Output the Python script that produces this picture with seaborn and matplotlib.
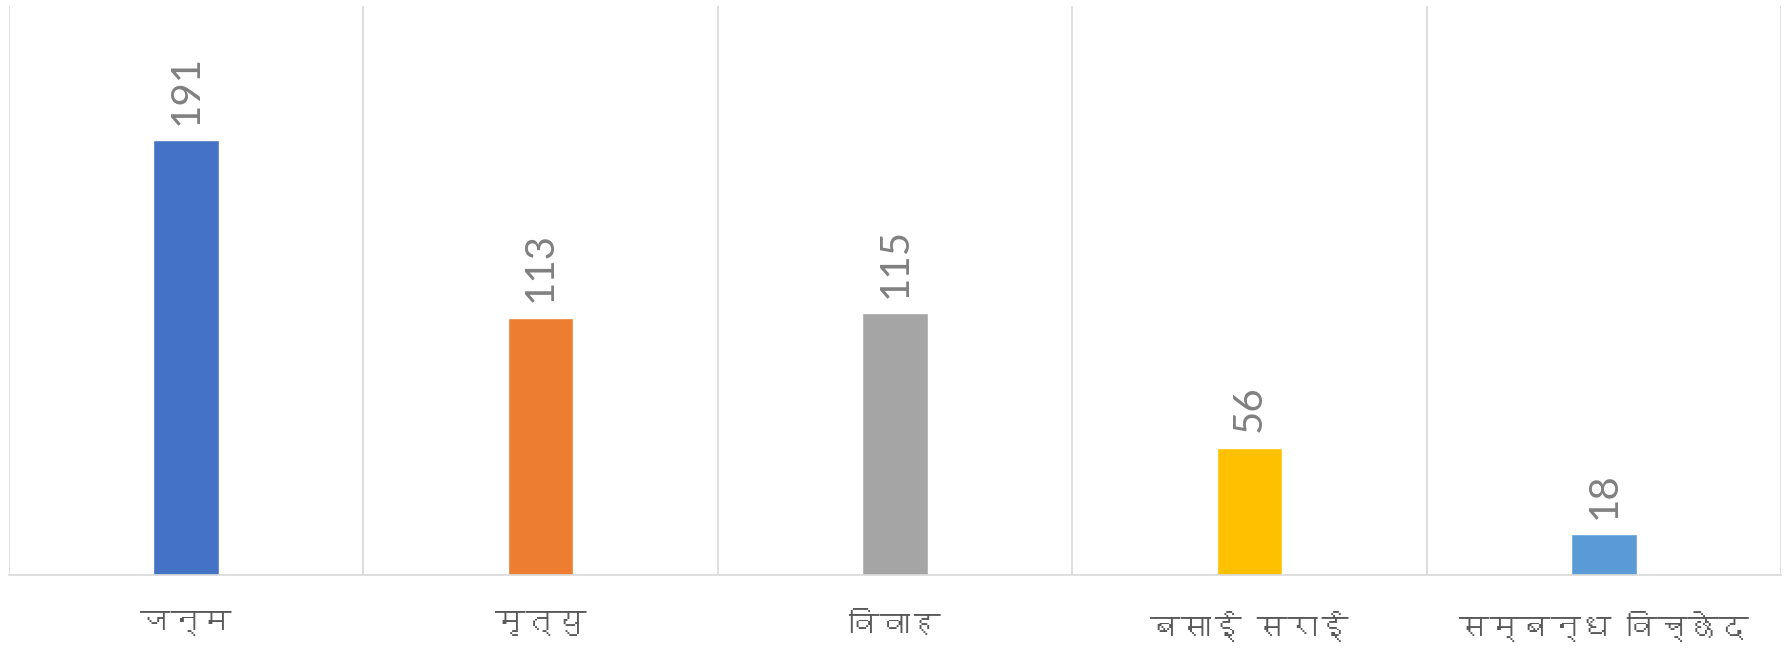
import numpy as np
import pandas as pd
import matplotlib
matplotlib.use('Agg')
import matplotlib.pyplot as plt
import seaborn as sns
from matplotlib import font_manager
from matplotlib.ft2font import FT2Font

categories = ['जन्म', 'मृत्यु', 'विवाह', 'बसाई सराई', 'सम्बन्ध विच्छेद']
values = [191, 113, 115, 56, 18]
bar_colors = ['#4472C4', '#ED7D31', '#A5A5A5', '#FFC000', '#5B9BD5']

# look for any installed font that has devanagari glyphs
deva_font = None
for f in font_manager.fontManager.ttflist:
    try:
        if 0x091C in FT2Font(f.fname).get_charmap():
            deva_font = f.name
            break
    except Exception:
        pass
families = ([deva_font] if deva_font else []) + ['DejaVu Sans']

sns.set_theme(style='white')
plt.rcParams['font.family'] = families

df = pd.DataFrame({'cat': categories, 'val': values})

fig = plt.figure(figsize=(17.91, 6.49), dpi=100)
ax = fig.add_axes([0.005, 0.114, 0.9894, 0.877])
sns.barplot(data=df, x='cat', y='val', hue='cat', palette=bar_colors,
            width=0.185, legend=False, ax=ax, saturation=1)

ax.set_ylim(0, 250)
ax.set_xlim(-0.5, len(categories) - 0.5)
for b in np.arange(-0.5, len(categories), 1.0):
    ax.axvline(b, color='#D9D9D9', lw=1.2, zorder=0)

for i, v in enumerate(values):
    ax.annotate(str(v), (i, v), xytext=(0, 11), textcoords='offset points',
                rotation=90, ha='center', va='bottom', fontsize=29,
                color='#808080', family=['Lato', 'DejaVu Sans'])

ax.set_xlabel('')
ax.set_ylabel('')
ax.set_yticks([])
ax.tick_params(axis='x', length=0, pad=26, labelsize=22, labelcolor='#595959')
for s in ['top', 'left', 'right']:
    ax.spines[s].set_visible(False)
ax.spines['bottom'].set_color('#D9D9D9')
ax.spines['bottom'].set_linewidth(1.2)

fig.savefig('out.png', dpi=100)
